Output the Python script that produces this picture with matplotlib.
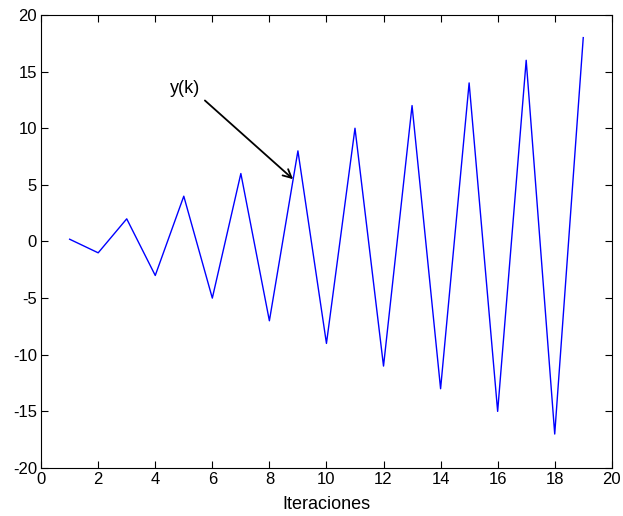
import matplotlib
matplotlib.use("Agg")
import matplotlib.pyplot as plt

k = list(range(1, 20))
y = [0.2, -1, 2, -3, 4, -5, 6, -7, 8, -9, 10, -11, 12, -13, 14, -15, 16, -17, 18]
xticks = list(range(0, 21, 2))
yticks = list(range(-20, 21, 5))

plt.rcParams['font.family'] = ['Liberation Sans Narrow', 'Liberation Sans', 'DejaVu Sans']
plt.rcParams['axes.unicode_minus'] = False

fig = plt.figure(figsize=(6.23, 5.16), dpi=100)
ax = fig.add_axes([0.066, 0.093, 0.916, 0.878])
ax.plot(k, y, color='#0000ff', linewidth=1.0)
ax.set_xlim(0, 20)
ax.set_ylim(-20, 20)
ax.set_xticks(xticks)
ax.set_yticks(yticks)
ax.tick_params(direction='in', top=True, right=True, labelsize=12, length=5, width=0.8, pad=3)
for s in ax.spines.values():
    s.set_linewidth(0.8)
ax.set_xlabel('Iteraciones', fontsize=13, labelpad=6)
ax.text(4.5, 13.5, 'y(k)', fontsize=13, ha='left', va='center')
ax.annotate('', xy=(8.83, 5.5), xytext=(5.74, 12.45),
            arrowprops=dict(arrowstyle='->', color='black', lw=1.3,
                            shrinkA=0, shrinkB=0, mutation_scale=15))
fig.savefig('out.png', dpi=100)
